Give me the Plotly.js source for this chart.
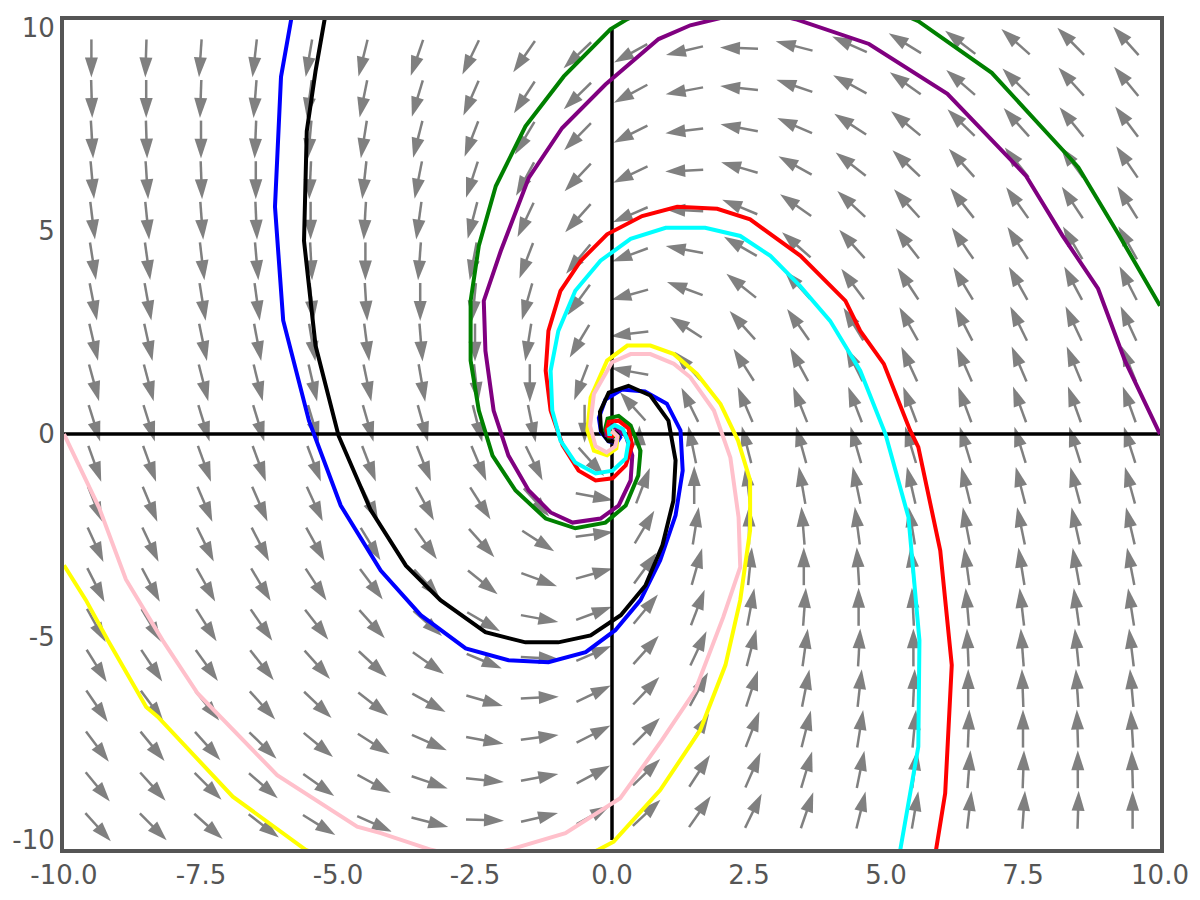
<!DOCTYPE html>
<html><head><meta charset="utf-8">
<script src="https://cdn.plot.ly/plotly-3.0.1.min.js"></script>
<style>html,body{margin:0;padding:0;background:#fff}</style>
</head><body><div id="chart" style="width:1200px;height:900px"></div>
<script>
// grid of the direction field (arrow anchor points)
const GRID_X = [-9.5,-8.5,-7.5,-6.5,-5.5,-4.5,-3.5,-2.5,-1.5,-0.5,0.5,1.5,2.5,3.5,4.5,5.5,6.5,7.5,8.5,9.5];
const GRID_Y = [9.5,8.5,7.5,6.5,5.5,4.5,3.5,2.5,1.5,0.5,-0.5,-1.5,-2.5,-3.5,-4.5,-5.5,-6.5,-7.5,-8.5,-9.5];
// field components at each grid point (row = GRID_Y, column = GRID_X)
const FIELD_U = [
[0,-1,-2,-3,-4,-5,-6,-7,-8,-9,-10,-11,-12,-13,-14,-15,-16,-17,-18,-19],
[1,0,-1,-2,-3,-4,-5,-6,-7,-8,-9,-10,-11,-12,-13,-14,-15,-16,-17,-18],
[2,1,0,-1,-2,-3,-4,-5,-6,-7,-8,-9,-10,-11,-12,-13,-14,-15,-16,-17],
[3,2,1,0,-1,-2,-3,-4,-5,-6,-7,-8,-9,-10,-11,-12,-13,-14,-15,-16],
[4,3,2,1,0,-1,-2,-3,-4,-5,-6,-7,-8,-9,-10,-11,-12,-13,-14,-15],
[5,4,3,2,1,0,-1,-2,-3,-4,-5,-6,-7,-8,-9,-10,-11,-12,-13,-14],
[6,5,4,3,2,1,0,-1,-2,-3,-4,-5,-6,-7,-8,-9,-10,-11,-12,-13],
[7,6,5,4,3,2,1,0,-1,-2,-3,-4,-5,-6,-7,-8,-9,-10,-11,-12],
[8,7,6,5,4,3,2,1,0,-1,-2,-3,-4,-5,-6,-7,-8,-9,-10,-11],
[9,8,7,6,5,4,3,2,1,0,-1,-2,-3,-4,-5,-6,-7,-8,-9,-10],
[10,9,8,7,6,5,4,3,2,1,0,-1,-2,-3,-4,-5,-6,-7,-8,-9],
[11,10,9,8,7,6,5,4,3,2,1,0,-1,-2,-3,-4,-5,-6,-7,-8],
[12,11,10,9,8,7,6,5,4,3,2,1,0,-1,-2,-3,-4,-5,-6,-7],
[13,12,11,10,9,8,7,6,5,4,3,2,1,0,-1,-2,-3,-4,-5,-6],
[14,13,12,11,10,9,8,7,6,5,4,3,2,1,0,-1,-2,-3,-4,-5],
[15,14,13,12,11,10,9,8,7,6,5,4,3,2,1,0,-1,-2,-3,-4],
[16,15,14,13,12,11,10,9,8,7,6,5,4,3,2,1,0,-1,-2,-3],
[17,16,15,14,13,12,11,10,9,8,7,6,5,4,3,2,1,0,-1,-2],
[18,17,16,15,14,13,12,11,10,9,8,7,6,5,4,3,2,1,0,-1],
[19,18,17,16,15,14,13,12,11,10,9,8,7,6,5,4,3,2,1,0]];
const FIELD_V = [
[-47.5,-43.5,-39.5,-35.5,-31.5,-27.5,-23.5,-19.5,-15.5,-11.5,-7.5,-3.5,0.5,4.5,8.5,12.5,16.5,20.5,24.5,28.5],
[-46.5,-42.5,-38.5,-34.5,-30.5,-26.5,-22.5,-18.5,-14.5,-10.5,-6.5,-2.5,1.5,5.5,9.5,13.5,17.5,21.5,25.5,29.5],
[-45.5,-41.5,-37.5,-33.5,-29.5,-25.5,-21.5,-17.5,-13.5,-9.5,-5.5,-1.5,2.5,6.5,10.5,14.5,18.5,22.5,26.5,30.5],
[-44.5,-40.5,-36.5,-32.5,-28.5,-24.5,-20.5,-16.5,-12.5,-8.5,-4.5,-0.5,3.5,7.5,11.5,15.5,19.5,23.5,27.5,31.5],
[-43.5,-39.5,-35.5,-31.5,-27.5,-23.5,-19.5,-15.5,-11.5,-7.5,-3.5,0.5,4.5,8.5,12.5,16.5,20.5,24.5,28.5,32.5],
[-42.5,-38.5,-34.5,-30.5,-26.5,-22.5,-18.5,-14.5,-10.5,-6.5,-2.5,1.5,5.5,9.5,13.5,17.5,21.5,25.5,29.5,33.5],
[-41.5,-37.5,-33.5,-29.5,-25.5,-21.5,-17.5,-13.5,-9.5,-5.5,-1.5,2.5,6.5,10.5,14.5,18.5,22.5,26.5,30.5,34.5],
[-40.5,-36.5,-32.5,-28.5,-24.5,-20.5,-16.5,-12.5,-8.5,-4.5,-0.5,3.5,7.5,11.5,15.5,19.5,23.5,27.5,31.5,35.5],
[-39.5,-35.5,-31.5,-27.5,-23.5,-19.5,-15.5,-11.5,-7.5,-3.5,0.5,4.5,8.5,12.5,16.5,20.5,24.5,28.5,32.5,36.5],
[-38.5,-34.5,-30.5,-26.5,-22.5,-18.5,-14.5,-10.5,-6.5,-2.5,1.5,5.5,9.5,13.5,17.5,21.5,25.5,29.5,33.5,37.5],
[-37.5,-33.5,-29.5,-25.5,-21.5,-17.5,-13.5,-9.5,-5.5,-1.5,2.5,6.5,10.5,14.5,18.5,22.5,26.5,30.5,34.5,38.5],
[-36.5,-32.5,-28.5,-24.5,-20.5,-16.5,-12.5,-8.5,-4.5,-0.5,3.5,7.5,11.5,15.5,19.5,23.5,27.5,31.5,35.5,39.5],
[-35.5,-31.5,-27.5,-23.5,-19.5,-15.5,-11.5,-7.5,-3.5,0.5,4.5,8.5,12.5,16.5,20.5,24.5,28.5,32.5,36.5,40.5],
[-34.5,-30.5,-26.5,-22.5,-18.5,-14.5,-10.5,-6.5,-2.5,1.5,5.5,9.5,13.5,17.5,21.5,25.5,29.5,33.5,37.5,41.5],
[-33.5,-29.5,-25.5,-21.5,-17.5,-13.5,-9.5,-5.5,-1.5,2.5,6.5,10.5,14.5,18.5,22.5,26.5,30.5,34.5,38.5,42.5],
[-32.5,-28.5,-24.5,-20.5,-16.5,-12.5,-8.5,-4.5,-0.5,3.5,7.5,11.5,15.5,19.5,23.5,27.5,31.5,35.5,39.5,43.5],
[-31.5,-27.5,-23.5,-19.5,-15.5,-11.5,-7.5,-3.5,0.5,4.5,8.5,12.5,16.5,20.5,24.5,28.5,32.5,36.5,40.5,44.5],
[-30.5,-26.5,-22.5,-18.5,-14.5,-10.5,-6.5,-2.5,1.5,5.5,9.5,13.5,17.5,21.5,25.5,29.5,33.5,37.5,41.5,45.5],
[-29.5,-25.5,-21.5,-17.5,-13.5,-9.5,-5.5,-1.5,2.5,6.5,10.5,14.5,18.5,22.5,26.5,30.5,34.5,38.5,42.5,46.5],
[-28.5,-24.5,-20.5,-16.5,-12.5,-8.5,-4.5,-0.5,3.5,7.5,11.5,15.5,19.5,23.5,27.5,31.5,35.5,39.5,43.5,47.5]];

// trajectories
const BLUE_X = [-5.83,-6.04,-6.15,-6.0,-5.53,-4.95,-4.22,-3.49,-2.67,-1.89,-1.16,-0.48,0.06,0.52,0.88,1.16,1.29,1.25,1.0,0.6,0.18,-0.12,-0.24,-0.2,-0.06,0.08,0.15,0.1,0.0];
const BLUE_Y = [10.4,8.8,5.6,2.8,0.33,-1.76,-3.36,-4.46,-5.28,-5.57,-5.62,-5.37,-4.83,-4.09,-3.11,-2.0,-0.9,0.09,0.75,1.05,1.1,0.85,0.4,0.05,-0.18,-0.22,-0.08,0.06,0.0];
const BLACK_X = [-5.22,-5.41,-5.57,-5.62,-5.41,-4.99,-4.40,-3.76,-3.13,-2.31,-1.58,-0.98,-0.39,0.16,0.61,0.92,1.12,1.16,1.03,0.70,0.30,-0.06,-0.22,-0.2,-0.07,0.06,0.12,0.08,0.0];
const BLACK_Y = [10.4,8.94,7.46,4.76,2.18,-0.04,-1.88,-3.24,-4.09,-4.88,-5.13,-5.13,-4.96,-4.46,-3.73,-2.74,-1.64,-0.65,0.33,0.95,1.19,1.02,0.55,0.08,-0.17,-0.2,-0.06,0.06,0.0];
const GREEN_X = [10.0,9.24,8.51,8.27,6.93,5.59,4.2,2.6,1.3,0.25,-0.03,-0.88,-1.58,-2.12,-2.43,-2.58,-2.58,-2.43,-2.18,-1.76,-1.21,-0.67,-0.12,0.25,0.48,0.52,0.34,0.12,-0.08,-0.13,-0.06,0.03,0.0];
const GREEN_Y = [3.16,4.93,6.57,6.93,8.90,10.17,11.0,11.3,10.9,10.2,9.97,8.81,7.58,6.11,4.64,3.28,1.81,0.58,-0.53,-1.39,-2.08,-2.32,-2.18,-1.76,-1.02,-0.41,0.21,0.45,0.38,0.1,-0.08,-0.06,0.0];
const PURPLE_X = [10.0,9.36,8.87,8.22,7.55,6.12,4.69,3.35,2.6,1.89,1.43,0.85,-0.12,-0.91,-1.52,-2.03,-2.34,-2.31,-2.16,-1.89,-1.52,-1.12,-0.72,-0.21,0.12,0.34,0.37,0.25,0.01,-0.1,-0.1,0.0,0.04,0.0];
const PURPLE_Y = [0.0,1.81,3.58,4.89,6.37,8.38,9.61,10.22,10.45,10.22,10.07,9.73,8.61,7.54,6.31,4.51,3.28,2.05,0.58,-0.53,-1.39,-1.93,-2.18,-2.08,-1.76,-1.14,-0.53,-0.04,0.21,0.12,-0.03,-0.07,0.0,0.0];
const RED_X = [5.90,6.08,6.20,5.99,5.59,5.44,4.96,4.53,4.26,3.44,2.52,1.92,1.19,0.55,-0.09,-0.57,-0.94,-1.16,-1.21,-1.12,-0.90,-0.61,-0.30,0.01,0.25,0.37,0.30,0.12,-0.06,-0.1,-0.05,0.03,0.0];
const RED_Y = [-10.35,-8.85,-5.69,-2.87,-0.32,0.09,1.73,2.54,3.28,4.39,5.29,5.55,5.60,5.37,4.92,4.27,3.53,2.54,1.56,0.58,-0.28,-0.90,-1.14,-1.09,-0.77,-0.28,0.14,0.33,0.30,0.1,-0.05,-0.05,0.0];
const CYAN_X = [5.24,5.50,5.59,5.61,5.47,5.41,5.14,4.99,4.53,3.98,3.43,2.89,2.34,1.70,0.98,0.34,-0.21,-0.67,-0.98,-1.12,-1.09,-0.94,-0.67,-0.30,0.01,0.25,0.30,0.20,0.05,-0.06,-0.05,0.0];
const CYAN_Y = [-10.4,-8.36,-7.70,-5.08,-2.86,-2.05,-0.73,0.0,1.56,2.79,3.65,4.39,4.88,5.08,5.08,4.81,4.27,3.53,2.54,1.56,0.58,-0.16,-0.70,-0.97,-0.90,-0.60,-0.20,0.12,0.22,0.12,0.0,0.0];
const YELLOW_X = [-10.0,-9.60,-9.20,-8.50,-8.29,-6.92,-5.59,-4.2,-2.6,-1.3,-0.25,0.03,0.88,1.61,2.07,2.34,2.52,2.52,2.30,1.98,1.55,1.13,0.70,0.28,-0.09,-0.39,-0.45,-0.33,-0.09,0.08,0.1,0.02,0.0];
const YELLOW_Y = [-3.23,-4.09,-5.08,-6.72,-6.96,-8.93,-10.24,-11.0,-11.3,-10.9,-10.24,-10.04,-8.77,-7.29,-5.69,-4.09,-2.37,-1.14,-0.16,0.74,1.48,1.97,2.18,2.18,1.81,0.90,0.09,-0.41,-0.52,-0.35,-0.08,0.05,0.0];
const PINK_X = [-10.0,-9.36,-8.87,-8.20,-7.56,-6.11,-4.65,-4.22,-3.30,-2.6,-1.88,-0.85,0.15,0.91,1.52,2.03,2.34,2.31,2.16,1.86,1.43,1.13,0.70,0.34,0.0,-0.33,-0.40,-0.30,-0.10,0.06,0.10,0.02,0.0];
const PINK_Y = [0.0,-1.81,-3.58,-5.08,-6.39,-8.40,-9.67,-9.83,-10.24,-10.45,-10.24,-9.83,-8.97,-7.54,-6.31,-4.51,-3.28,-2.05,-0.58,0.58,1.40,1.73,1.97,1.97,1.77,0.99,0.2,-0.3,-0.45,-0.3,-0.05,0.05,0.0];

const X_TICKS = [-10,-7.5,-5,-2.5,0,2.5,5,7.5,10];
const X_TICK_TEXT = ['-10.0','-7.5','-5.0','-2.5','0.0','2.5','5.0','7.5','10.0'];
const Y_TICKS = [-10,-5,0,5,10];
const Y_TICK_TEXT = ['-10','-5','0','5','10'];

const TRAJ = [
  {name:'blue', x:BLUE_X, y:BLUE_Y, color:'blue'},
  {name:'black', x:BLACK_X, y:BLACK_Y, color:'black'},
  {name:'green', x:GREEN_X, y:GREEN_Y, color:'green'},
  {name:'purple', x:PURPLE_X, y:PURPLE_Y, color:'purple'},
  {name:'red', x:RED_X, y:RED_Y, color:'red'},
  {name:'cyan', x:CYAN_X, y:CYAN_Y, color:'cyan'},
  {name:'yellow', x:YELLOW_X, y:YELLOW_Y, color:'yellow'},
  {name:'pink', x:PINK_X, y:PINK_Y, color:'pink'}
];

const X_RANGE = [-10, 10];
const Y_RANGE = [-10.22, 10.2];
const W = 1200, H = 900;
const M = {l:64, r:40, t:20, b:51, pad:0};
const kx = (W - M.l - M.r) / (X_RANGE[1] - X_RANGE[0]);
const ky = (H - M.t - M.b) / (Y_RANGE[1] - Y_RANGE[0]);
const BACK = 9, FWD = 29;   // arrow extent behind / ahead of its anchor, px

const qx = [], qy = [], qs = [];
GRID_Y.forEach((gy, r) => {
  GRID_X.forEach((gx, c) => {
    const sx = FIELD_U[r][c] * kx, sy = FIELD_V[r][c] * ky;
    const n = Math.hypot(sx, sy) || 1;
    const dx = sx / n, dy = sy / n;
    qx.push(gx - BACK * dx / kx, gx + FWD * dx / kx, null);
    qy.push(gy - BACK * dy / ky, gy + FWD * dy / ky, null);
    qs.push(0, 21, 0);
  });
});

const traces = [{
  type:'scatter', mode:'lines+markers', x:qx, y:qy, connectgaps:false,
  line:{color:'#808080', width:2.5},
  marker:{symbol:'arrow', size:qs, angleref:'previous', color:'#808080', opacity:1, line:{width:0}},
  hoverinfo:'skip', showlegend:false
}, {
  type:'scatter', mode:'lines', x:[-10,10,null,0,0], y:[0,0,null,-10,10],
  line:{color:'black', width:3.5}, hoverinfo:'skip', showlegend:false
}];
TRAJ.forEach(t => traces.push({
  type:'scatter', mode:'lines', x:t.x, y:t.y, name:t.name,
  line:{color:t.color, width:4}, showlegend:false
}));

const axisFont = {family:'DejaVu Sans, Verdana, sans-serif', size:26, color:'#555'};
const layout = {
  width:W, height:H, margin:M, paper_bgcolor:'#fff', plot_bgcolor:'#fff',
  showlegend:false,
  xaxis:{range:X_RANGE, tickmode:'array', tickvals:X_TICKS, ticktext:X_TICK_TEXT, showgrid:false, zeroline:false,
         showline:true, mirror:true, linecolor:'#555', linewidth:4, ticks:'', tickfont:axisFont},
  yaxis:{range:Y_RANGE, tickmode:'array', tickvals:Y_TICKS, ticktext:Y_TICK_TEXT, showgrid:false, zeroline:false,
         showline:true, mirror:true, linecolor:'#555', linewidth:4, ticks:'', tickfont:axisFont}
};
Plotly.newPlot('chart', traces, layout, {staticPlot:true});
</script>
</body></html>
